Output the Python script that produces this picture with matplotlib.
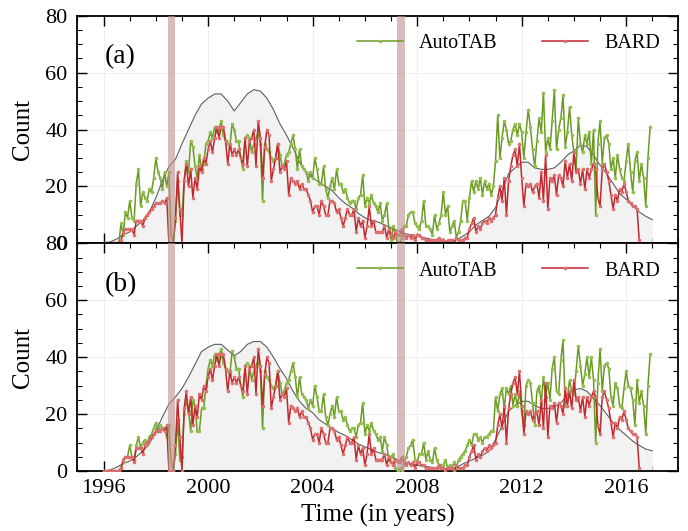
import numpy as np
import matplotlib
matplotlib.use("Agg")
import matplotlib.pyplot as plt
from matplotlib.ticker import MultipleLocator

plt.rcParams['font.family'] = ['Liberation Serif', 'DejaVu Serif']
plt.rcParams['axes.linewidth'] = 1.3

start_year = 1996

# BARD monthly counts, Jan 1996 .. Jul 2016 (same in both panels)
bard = [0, 0, 0, 0, 0, 0, 0, 0, 1, 4, 5, 5,            # 1996
        5, 5, 3, 8, 8, 8, 6, 9, 10, 11, 12, 13,         # 1997
        14, 14, 14, 15, 14, 16, 0, 0, 0, 9, 25, 12,     # 1998
        0, 22, 28, 20, 26, 16, 23, 19, 27, 25, 30, 28,  # 1999
        33, 36, 32, 37, 41, 37, 41, 41, 36, 28, 35, 31, # 2000
        33, 31, 33, 30, 28, 37, 27, 36, 37, 40, 27, 43, # 2001
        37, 23, 34, 40, 38, 22, 26, 30, 35, 25, 27, 26, # 2002
        29, 17, 23, 22, 21, 22, 19, 21, 19, 19, 17, 15, # 2003
        11, 13, 13, 10, 15, 13, 10, 10, 15, 15, 14, 11, # 2004
        12, 9, 6, 9, 12, 10, 10, 12, 4, 9, 6, 8,        # 2005
        2, 6, 13, 6, 8, 4, 4, 4, 4, 6, 2, 5,            # 2006
        3, 2, 4, 3, 3, 5, 3, 2, 3, 2, 3, 1,             # 2007
        3, 3, 2, 2, 1, 1, 1, 1, 1, 1, 2, 1,             # 2008
        1, 0, 1, 1, 1, 0, 2, 1, 1, 1, 2, 2,             # 2009
        5, 7, 9, 4, 6, 5, 7, 8, 7, 9, 8, 9,             # 2010
        10, 16, 20, 15, 23, 10, 22, 27, 31, 33, 27, 35, # 2011
        23, 13, 21, 20, 21, 18, 20, 21, 16, 25, 15, 31, # 2012
        12, 23, 22, 24, 17, 24, 23, 20, 29, 23, 28, 22, # 2013
        32, 25, 26, 21, 26, 19, 26, 23, 26, 28, 26, 16, # 2014
        13, 26, 28, 25, 22, 17, 12, 17, 15, 19, 18, 21, # 2015
        18, 15, 14, 13, 13, 12, 1]                      # 2016

# AutoTAB monthly counts
autotab_a_early = [0, 0, 0, 0, 0, 0, 0, 0, 7, 3, 11, 9,
                   15, 9, 8, 21, 26, 13, 18, 16, 15, 19, 18, 23,
                   30, 25, 23, 19, 25, 20, 25, 3, 0, 8, 22, 10,
                   10, 22, 29, 25, 36, 34, 27, 23, 31, 26, 28, 35]
autotab_b_early = [0, 0, 0, 0, 0, 0, 0, 0, 1, 3, 5, 5,
                   9, 5, 4, 9, 12, 8, 10, 11, 9, 12, 13, 15,
                   17, 14, 16, 15, 15, 12, 16, 3, 0, 6, 18, 4,
                   5, 20, 25, 21, 14, 25, 23, 14, 14, 22, 22, 30]
autotab_mid = [36, 39, 37, 41, 39, 40, 43, 38, 36, 35, 34, 42,  # 2000
               40, 36, 36, 30, 26, 37, 38, 37, 32, 35, 37, 39,  # 2001
               35, 15, 35, 33, 32, 30, 29, 30, 35, 31, 27, 28,  # 2002
               31, 32, 35, 38, 33, 26, 33, 27, 26, 25, 22, 25,  # 2003
               23, 30, 26, 21, 21, 27, 19, 16, 20, 23, 19, 26,  # 2004
               21, 21, 18, 19, 16, 14, 15, 15, 12, 16, 17, 24]  # 2005
autotab_a_late = [13, 16, 14, 17, 14, 13, 11, 14, 8, 10, 14, 5,
                  1, 6, 3, 0, 0, 2, 6, 6, 10, 11, 11, 7,
                  6, 5, 8, 15, 6, 6, 5, 3, 10, 5, 7, 10,
                  18, 10, 13, 4, 6, 8, 2, 4, 8, 15, 15, 8,
                  16, 22, 18, 22, 19, 23, 17, 22, 19, 21, 17, 20,
                  29, 45, 30, 37, 43, 40, 35, 36, 40, 42, 38, 42,
                  39, 30, 39, 47, 41, 33, 27, 36, 44, 39, 53, 32,
                  37, 33, 43, 54, 33, 40, 44, 52, 34, 39, 48, 38,
                  32, 26, 44, 35, 32, 38, 35, 39, 28, 40, 10, 35,
                  43, 28, 37, 38, 35, 26, 30, 23, 31, 26, 23, 22,
                  29, 35, 25, 18, 29, 32, 22, 28, 23, 13, 30, 41]
autotab_b_late = [13, 16, 14, 17, 14, 13, 11, 12, 7, 12, 9, 4,
                  5, 6, 1, 0, 1, 0, 3, 5, 8, 9, 11, 4,
                  3, 6, 6, 10, 4, 7, 4, 3, 8, 4, 2, 2,
                  2, 4, 1, 2, 1, 3, 1, 4, 5, 6, 7, 9,
                  11, 9, 13, 13, 11, 12, 10, 12, 12, 13, 14, 14,
                  26, 21, 27, 29, 22, 29, 27, 30, 23, 27, 23, 28,
                  21, 16, 30, 32, 31, 24, 16, 28, 30, 24, 33, 26,
                  31, 25, 36, 40, 28, 27, 39, 46, 23, 26, 32, 28,
                  27, 35, 44, 37, 30, 34, 40, 33, 40, 32, 10, 31,
                  43, 28, 37, 38, 36, 26, 23, 31, 29, 23, 22, 29,
                  35, 30, 29, 25, 16, 32, 24, 28, 23, 13, 30, 41]

# smoothed reference curve, quarterly 1996.0 .. 2017.0
gray_a = [0, 0.5, 1.5, 3, 4, 6, 8, 11, 16, 22, 27, 29.5, 35, 40, 45, 49,
          51, 52.5, 52.5, 50, 46.5, 49.5, 52.5, 54, 53.5, 51, 47, 42,
          38, 33.5, 28.5, 25, 23, 21.5, 20, 18.5, 16, 14, 12.5, 10.5,
          9, 8, 7.5, 6.5, 5.5, 4.5, 3.5, 3, 2.5, 2, 1.5, 1,
          0.7, 0.8, 1.2, 2.5, 4, 6.5, 8, 9.5, 12.5, 18.5, 24.5, 26.5,
          28.5, 28.5, 26.5, 26, 26, 26.5, 28.5, 31, 32.5, 34.5, 34, 31,
          27.5, 24.5, 21, 17.5, 15.5, 13.5, 11, 9.5, 8.3]
gray_b = [0, 0.4, 1.3, 2.6, 3.5, 5, 7, 9.5, 14, 19, 23.5, 26, 29, 33, 37.5, 42,
          43.5, 44.5, 44.5, 42.5, 40.5, 42, 44.5, 45.5, 45.5, 43.5, 40, 36,
          32.5, 28, 24.5, 22, 20.5, 18, 16.5, 15, 13.5, 12.5, 11, 9.5,
          8.5, 7.5, 6.5, 6, 5, 4, 3, 2.5, 2, 1.7, 1.4, 1,
          0.8, 0.9, 1.2, 2.5, 3.5, 4.5, 5.5, 7, 11, 16, 21, 23,
          24.5, 24.5, 23, 22, 22, 22.5, 24, 26.5, 28.5, 29, 28, 25.5,
          23, 20, 17, 14.5, 12.5, 10.5, 9, 7.7, 7.1]

bands = [(1998.45, 1998.75), (2007.22, 2007.54)]

autotab_a = autotab_a_early + autotab_mid + autotab_a_late
autotab_b = autotab_b_early + autotab_mid + autotab_b_late

green = '#6b9a22'
red = '#c1272d'


def months(vals):
    return start_year + np.arange(len(vals)) / 12.0


fig = plt.figure(figsize=(6.88, 5.31), dpi=100)
ax1 = fig.add_axes([0.1126, 0.5418, 0.8735, 0.4286])
ax2 = fig.add_axes([0.1126, 0.1130, 0.8735, 0.4288], sharex=ax1)

panels = [(ax1, autotab_a, gray_a, '(a)'), (ax2, autotab_b, gray_b, '(b)')]
for ax, auto, gray, tag in panels:
    gt = start_year + np.arange(len(gray)) * 0.25
    ax.fill_between(gt, 0, gray, color='#f2f2f2', lw=0, zorder=1)
    ax.plot(gt, gray, color='#5e5e5e', lw=0.8, zorder=2)
    ax.plot(months(auto), auto, color=green, lw=1.1, marker='o', ms=2.6,
            mfc='#92bd50', mec='none', label='AutoTAB', zorder=3)
    ax.plot(months(bard), bard, color=red, lw=1.1, marker='o', ms=2.6,
            mfc='#dc7070', mec='none', label='BARD', zorder=3.1)
    for b0, b1 in bands:
        ax.axvspan(b0, b1, color='#bf8f8f', alpha=0.6, lw=0, zorder=4)

    ax.set_xlim(1995, 2018)
    ax.set_ylim(0, 80)
    ax.set_xticks(np.arange(1996, 2017, 4))
    ax.xaxis.set_minor_locator(MultipleLocator(1))
    ax.set_yticks(np.arange(0, 81, 20))
    ax.yaxis.set_minor_locator(MultipleLocator(5))
    ax.tick_params(which='both', direction='in', top=True, right=True, labelsize=16)
    ax.tick_params(which='major', length=7, width=1.0)
    ax.tick_params(which='minor', length=3.5, width=0.8)
    ax.tick_params(axis='y', pad=7)
    ax.tick_params(axis='x', pad=6)
    ax.grid(True, which='major', color='#efefef', lw=0.8)
    ax.set_axisbelow(True)
    ax.set_ylabel('Count', fontsize=18, labelpad=8)
    ax.text(0.045, 0.82, tag, transform=ax.transAxes, fontsize=20, va='center')
    ax.legend(loc='upper right', ncol=2, frameon=False, fontsize=14.5,
              handlelength=2.3, handletextpad=0.8, columnspacing=2.2, numpoints=1)

ax1.tick_params(labelbottom=False)
ax2.set_xlabel('Time (in years)', fontsize=18, labelpad=4)

fig.savefig('out.png', dpi=100)
